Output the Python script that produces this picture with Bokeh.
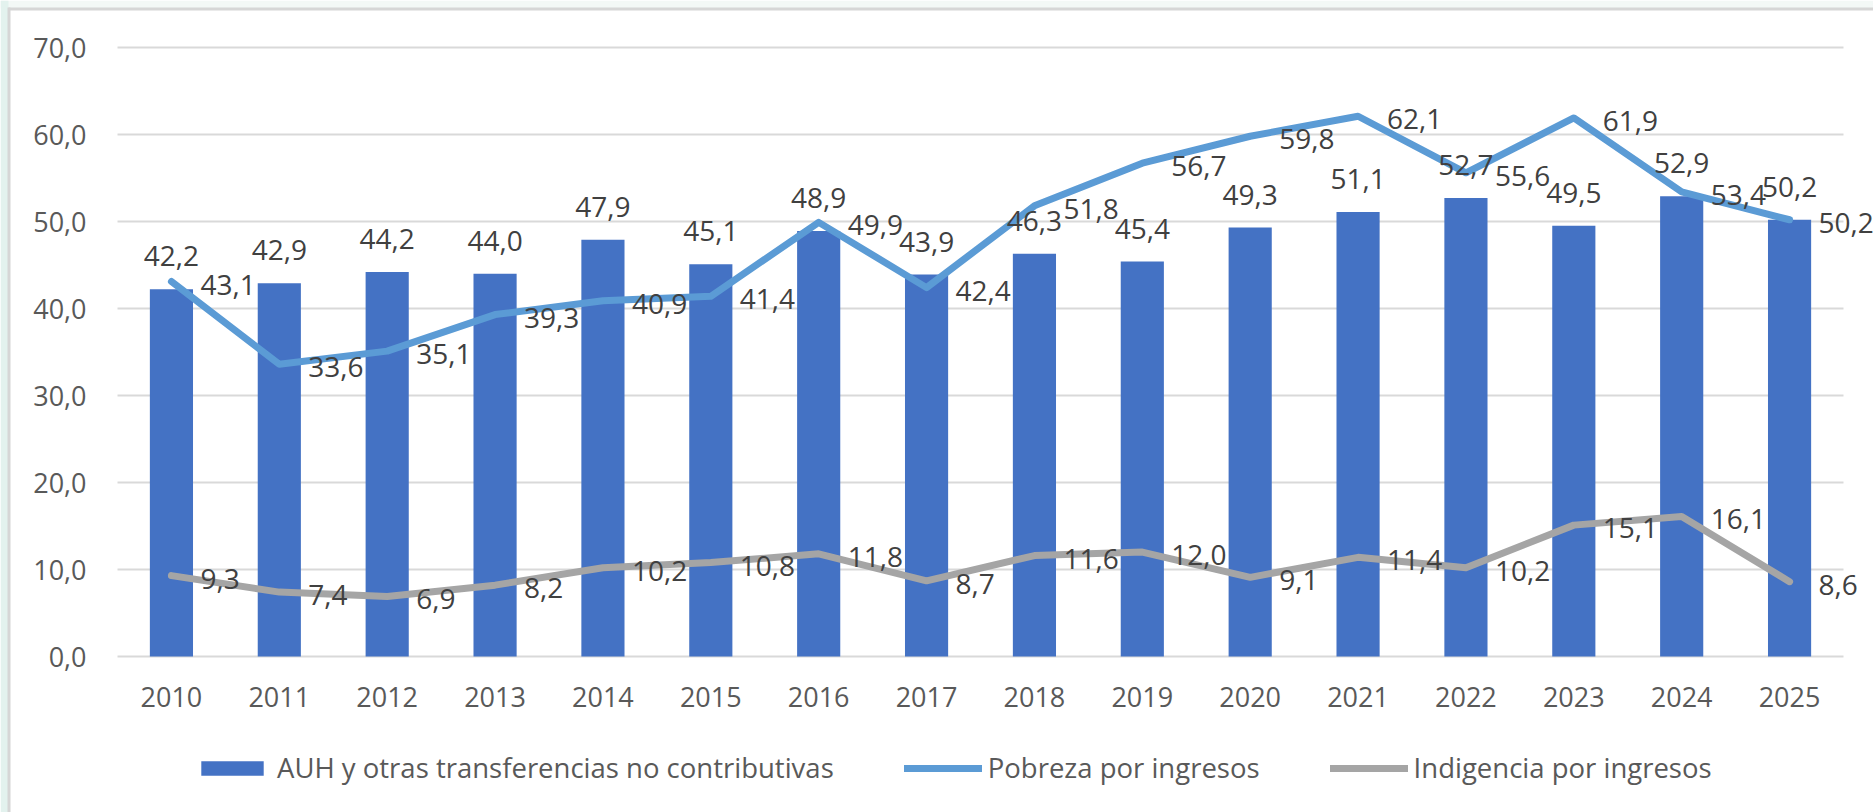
from bokeh.plotting import figure
from bokeh.models import (ColumnDataSource, Range1d, FixedTicker, CustomJSTickFormatter,
                          LabelSet, Legend, LegendItem, BoxAnnotation)
from bokeh.core.properties import value
from bokeh.embed import file_html
from bokeh.resources import INLINE

years = ["2010", "2011", "2012", "2013", "2014", "2015", "2016", "2017",
         "2018", "2019", "2020", "2021", "2022", "2023", "2024", "2025"]
auh = [42.2, 42.9, 44.2, 44.0, 47.9, 45.1, 48.9, 43.9, 46.3, 45.4, 49.3, 51.1, 52.7, 49.5, 52.9, 50.2]
pobreza = [43.1, 33.6, 35.1, 39.3, 40.9, 41.4, 49.9, 42.4, 51.8, 56.7, 59.8, 62.1, 55.6, 61.9, 53.4, 50.2]
indigencia = [9.3, 7.4, 6.9, 8.2, 10.2, 10.8, 11.8, 8.7, 11.6, 12.0, 9.1, 11.4, 10.2, 15.1, 16.1, 8.6]
y_ticks = [0, 10, 20, 30, 40, 50, 60, 70]
series_names = ["AUH y otras transferencias no contributivas", "Pobreza por ingresos", "Indigencia por ingresos"]

def fmt(v):
    return ("%.1f" % v).replace(".", ",")

xs = list(range(len(years)))
src = ColumnDataSource(dict(
    x=xs, auh=auh, pob=pobreza, ind=indigencia,
    auh_l=[fmt(v) for v in auh], pob_l=[fmt(v) for v in pobreza], ind_l=[fmt(v) for v in indigencia],
))

FONT = "Open Sans"
W, H = 1873, 812
PLOT_LEFT, PLOT_TOP, PLOT_W, PLOT_H = 117, 47, 1726, 609   # plotting area in page pixels
cat_px = PLOT_W / len(years)
px_per_unit = PLOT_H / 70.0
x_start = -0.5 - PLOT_LEFT / cat_px
x_end = x_start + W / cat_px
y_top = 70.0 + PLOT_TOP / px_per_unit
y_bottom = y_top - H / px_per_unit

def px_x(px):
    return x_start + px / cat_px

def px_y(py):
    return y_top - py / px_per_unit

p = figure(x_range=Range1d(x_start, x_end), y_range=Range1d(y_bottom, y_top),
           width=W, height=H, output_backend="svg", toolbar_location=None,
           min_border_left=0, min_border_right=0, min_border_top=0, min_border_bottom=0)
p.outline_line_color = None
p.background_fill_color = "white"
p.border_fill_color = "white"
p.xgrid.grid_line_color = None
p.ygrid.grid_line_color = None

# page frame decoration (tinted margin and light border)
p.add_layout(BoxAnnotation(bottom=px_y(8), fill_color="#F3F8F6", fill_alpha=1, line_color=None))
p.add_layout(BoxAnnotation(right=px_x(8), fill_color="#E3F2EE", fill_alpha=1, line_color=None))
p.add_layout(BoxAnnotation(left=px_x(8), bottom=px_y(10), top=px_y(7), fill_color="#D6D6D6", fill_alpha=1, line_color=None))
p.add_layout(BoxAnnotation(left=px_x(7), right=px_x(10), top=px_y(7), fill_color="#D6D6D6", fill_alpha=1, line_color=None))

# horizontal gridlines ending at the last category
p.segment(x0=[-0.5] * len(y_ticks), x1=[len(years) - 0.5] * len(y_ticks), y0=y_ticks, y1=y_ticks,
          line_color="#D9D9D9", line_width=2)

bars = p.vbar(x="x", top="auh", width=0.4, source=src, fill_color="#4472C4", line_color=None)
l1 = p.line(x="x", y="pob", source=src, line_color="#5B9BD5", line_width=7, line_cap="round", line_join="round")
l2 = p.line(x="x", y="ind", source=src, line_color="#A5A5A5", line_width=7, line_cap="round", line_join="round")

p.yaxis.ticker = FixedTicker(ticks=y_ticks)
p.yaxis.formatter = CustomJSTickFormatter(code="return tick.toFixed(1).replace('.', ',');")
p.yaxis.fixed_location = -0.5
p.xaxis.ticker = FixedTicker(ticks=xs)
p.xaxis.major_label_overrides = {i: y for i, y in zip(xs, years)}
p.xaxis.fixed_location = 0
for ax in (p.xaxis[0], p.yaxis[0]):
    ax.axis_line_color = None
    ax.major_tick_line_color = None
    ax.minor_tick_line_color = None
    ax.major_label_text_font = FONT
    ax.major_label_text_font_size = "27px"
    ax.major_label_text_color = "#595959"
p.yaxis.major_label_standoff = 25
p.xaxis.major_label_standoff = 24

common = dict(source=src, text_font=value(FONT), text_font_size="28px", text_color="#404040")
p.add_layout(LabelSet(x="x", y="auh", text="auh_l", text_align="center", text_baseline="middle",
                      y_offset=33, **common))
p.add_layout(LabelSet(x="x", y="pob", text="pob_l", text_align="left", text_baseline="middle",
                      x_offset=29, y_offset=-3, **common))
p.add_layout(LabelSet(x="x", y="ind", text="ind_l", text_align="left", text_baseline="middle",
                      x_offset=29, y_offset=-3, **common))

legend = Legend(items=[LegendItem(label=series_names[0], renderers=[bars]),
                       LegendItem(label=series_names[1], renderers=[l1]),
                       LegendItem(label=series_names[2], renderers=[l2])],
                orientation="horizontal", location=(193, 26),
                glyph_width=78, glyph_height=18, label_standoff=6, spacing=70,
                label_text_font=FONT, label_text_font_size="27.5px", label_text_color="#595959",
                border_line_color=None, background_fill_color=None, padding=0, margin=0)
p.add_layout(legend, "center")

open("out.html", "w").write(file_html(p, INLINE))
